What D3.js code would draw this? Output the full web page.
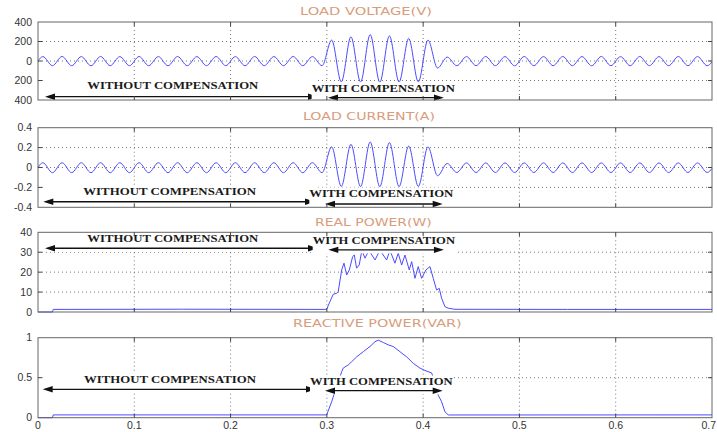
<!DOCTYPE html>
<html><head><meta charset="utf-8">
<script src="https://cdn.jsdelivr.net/npm/d3@7"></script>
<style>body{margin:0;background:#fff}svg{display:block}</style>
</head><body>
<script>
// ---------------- DATA ----------------
const xTicks = [0, 0.1, 0.2, 0.3, 0.4, 0.5, 0.6, 0.7];
const xTickLabels = ["0", "0.1", "0.2", "0.3", "0.4", "0.5", "0.6", "0.7"];
const titles = ["LOAD VOLTAGE(V)", "LOAD CURRENT(A)", "REAL POWER(W)", "REACTIVE POWER(VAR)"];

const voltageTicks = [400, 200, 0, -200, -400];
const voltageTickLabels = ["400", "200", "0", "200", "400"];
const currentTicks = [0.4, 0.2, 0, -0.2, -0.4];
const currentTickLabels = ["0.4", "0.2", "0", "-0.2", "-0.4"];
const realTicks = [40, 30, 20, 10, 0];
const realTickLabels = ["40", "30", "20", "10", "0"];
const reactiveTicks = [1, 0.5, 0];
const reactiveTickLabels = ["1", "0.5", "0"];

// half-cycle times of the 50 Hz waveform (peak / trough instants)
const halfCycleTimes = d3.range(70).map(k => +(0.005 + 0.01 * k).toFixed(3));

// voltage peaks/troughs, one per half cycle
const voltageExtrema = [
  45,-48,46,-48,45,-49,46,-48,45,-48,46,-48,45,-49,46,-48,45,-48,46,-48,45,-49,46,-48,45,-48,46,-48,45,-48,
  214,-214,248,-216,271,-218,258,-216,231,-214,214,-72,
  40,-48,45,-48,46,-48,45,-49,46,-48,45,-48,46,-48,45,-49,46,-48,45,-48,46,-48,45,-48,46,-48,45,-48
];
const voltageStart = 0, voltageEnd = -10;

// current peaks/troughs, one per half cycle
const currentExtrema = [
  0.048,-0.052,0.048,-0.052,0.048,-0.052,0.048,-0.052,0.048,-0.052,0.048,-0.052,0.048,-0.052,0.048,-0.052,
  0.048,-0.052,0.048,-0.052,0.048,-0.052,0.048,-0.052,0.048,-0.052,0.048,-0.052,0.048,-0.052,
  0.207,-0.19,0.233,-0.192,0.257,-0.193,0.25,-0.192,0.215,-0.19,0.207,-0.083,
  0.04,-0.05,0.046,-0.05,0.046,-0.05,0.046,-0.05,0.046,-0.05,0.046,-0.05,0.046,-0.05,
  0.046,-0.05,0.046,-0.05,0.046,-0.05,0.046,-0.05,0.046,-0.05,0.046,-0.05,0.046,-0.05
];
const currentStart = 0, currentEnd = -0.01;

const realPowerT = [0,0.015,0.0158,0.15,0.299,0.2998,0.3032,0.3066,0.3102,0.3118,0.3154,0.3178,0.3206,0.3233,
  0.3268,0.3285,0.3309,0.3336,0.3364,0.3396,0.3437,0.35,0.3551,0.3621,0.3655,0.3707,0.3741,0.3777,0.3811,
  0.3856,0.3881,0.3915,0.3949,0.3984,0.4029,0.4071,0.4105,0.414,0.4167,0.4192,0.4226,0.4261,0.433,0.55,0.7];
const realPowerV = [0,0,1.3,1.4,1.3,1.36,5.2,8.9,9.4,10.2,21.1,24.5,18.6,21.1,
  27.8,28.6,22.0,23.6,31,27,31,26.1,31,26.1,31,24.5,29.5,23.6,28.6,
  21.1,25.3,16.9,22.8,16.9,21.1,22.8,16.9,11.0,11.9,6.9,2.7,1.9,1.36,1.3,1.3];

const reactiveT = [0,0.015,0.0158,0.299,0.2998,0.305,0.3084,0.312,0.3154,0.317,0.3222,0.3258,0.3309,0.3378,
  0.3448,0.35,0.3534,0.3586,0.3638,0.369,0.3759,0.3829,0.3897,0.3967,0.4019,0.4088,0.412,0.4157,0.4192,
  0.4226,0.4261,0.7];
const reactiveV = [0,0,0.035,0.035,0.034,0.2,0.325,0.45,0.575,0.62,0.66,0.70,0.76,0.825,
  0.89,0.95,0.97,0.94,0.91,0.89,0.825,0.76,0.68,0.62,0.59,0.56,0.45,0.28,0.2,
  0.075,0.034,0.035];

const annotationTexts = ["WITHOUT COMPENSATION", "WITH COMPENSATION"];

// ---------------- LAYOUT ----------------
const W = 717, H = 432;
const left = 38, right = 712;
const panels = [
  {top: 22, bottom: 100, domain: [-400, 400], ticks: voltageTicks, labels: voltageTickLabels,
   title: titles[0], titleX: [300, 432], titleY: 15,
   ann: [{tx: [0.0512, 0.2288], ty: -290, ax: [0.0073, 0.2908], ay: -366},
         {tx: [0.2842, 0.433], ty: -315, ax: [0.3012, 0.4216], ay: -376}]},
  {top: 127.7, bottom: 207.3, domain: [-0.4, 0.4], ticks: currentTicks, labels: currentTickLabels,
   title: titles[1], titleX: [303, 435], titleY: 120.3,
   ann: [{tx: [0.047, 0.2264], ty: -0.276, ax: [0.0055, 0.2877], ay: -0.344},
         {tx: [0.2818, 0.4313], ty: -0.296, ax: [0.2981, 0.4203], ay: -0.367}]},
  {top: 232.3, bottom: 312, domain: [0, 40], ticks: realTicks, labels: realTickLabels,
   title: titles[2], titleX: [315, 431.7], titleY: 225.7,
   ann: [{tx: [0.0512, 0.2288], ty: 35.3, ax: [0.0073, 0.2908], ay: 32.0},
         {tx: [0.2853, 0.4331], ty: 34.2, ax: [0.3015, 0.4216], ay: 31.2}]},
  {top: 337.7, bottom: 417.7, domain: [0, 1], ticks: reactiveTicks, labels: reactiveTickLabels,
   title: titles[3], titleX: [293, 461.7], titleY: 326.7,
   ann: [{tx: [0.0478, 0.2264], ty: 0.4375, ax: [0.0049, 0.2887], ay: 0.355},
         {tx: [0.2825, 0.4307], ty: 0.409, ax: [0.2981, 0.4203], ay: 0.3375}]}
];

const series = [
  [[0, voltageStart]].concat(halfCycleTimes.map((t, i) => [t, voltageExtrema[i]]), [[0.7, voltageEnd]]),
  [[0, currentStart]].concat(halfCycleTimes.map((t, i) => [t, currentExtrema[i]]), [[0.7, currentEnd]]),
  realPowerT.map((t, i) => [t, realPowerV[i]]),
  reactiveT.map((t, i) => [t, reactiveV[i]])
];
const curves = [d3.curveMonotoneX, d3.curveMonotoneX, d3.curveLinear, d3.curveLinear];

const svg = d3.select("body").append("svg").attr("width", W).attr("height", H);
svg.append("rect").attr("width", W).attr("height", H).attr("fill", "#fff");

const x = d3.scaleLinear().domain([0, 0.7]).range([left, right]);

panels.forEach((p, pi) => {
  const y = d3.scaleLinear().domain(p.domain).range([p.bottom, p.top]);
  const g = svg.append("g");

  // grid
  const innerX = xTicks.slice(1, -1);
  const innerY = p.ticks.filter(v => v !== p.domain[0] && v !== p.domain[1]);
  g.selectAll(".gx").data(innerX).join("line")
    .attr("x1", d => x(d)).attr("x2", d => x(d)).attr("y1", p.top).attr("y2", p.bottom)
    .attr("stroke", "#555").attr("stroke-width", 0.8).attr("stroke-dasharray", "1,3");
  g.selectAll(".gy").data(innerY).join("line")
    .attr("x1", left).attr("x2", right).attr("y1", d => y(d)).attr("y2", d => y(d))
    .attr("stroke", "#555").attr("stroke-width", 0.8).attr("stroke-dasharray", "1,3");

  // data line
  const line = d3.line().x(d => x(d[0])).y(d => y(d[1])).curve(curves[pi]);
  g.append("path").datum(series[pi]).attr("d", line)
    .attr("fill", "none").attr("stroke", "#4b4bff").attr("stroke-width", 1);

  // annotations (white backed)
  p.ann.forEach((a, ai) => {
    const tx0 = x(a.tx[0]), tx1 = x(a.tx[1]), tyb = y(a.ty);
    const ax0 = x(a.ax[0]), ax1 = x(a.ax[1]), ay = y(a.ay);
    const bx0 = Math.min(tx0, ax0), bx1 = Math.max(tx1, ax1);
    g.append("rect").attr("x", bx0).attr("y", tyb - 9.5).attr("width", bx1 - bx0)
      .attr("height", ay + 3.5 - (tyb - 9.5)).attr("fill", "#fff");
    g.append("text").attr("x", tx0).attr("y", tyb)
      .attr("font-family", "Liberation Serif, Times New Roman, serif").attr("font-weight", "bold")
      .attr("font-size", 10).attr("fill", "#1a1a1a")
      .attr("textLength", tx1 - tx0).attr("lengthAdjust", "spacingAndGlyphs")
      .text(annotationTexts[ai]);
    const head = 10, hw = 3.2;
    g.append("line").attr("x1", ax0 + head - 1).attr("x2", ax1 - head + 1).attr("y1", ay).attr("y2", ay)
      .attr("stroke", "#111").attr("stroke-width", 1.3);
    g.append("path").attr("d", `M${ax0},${ay}L${ax0 + head},${ay - hw}L${ax0 + head},${ay + hw}Z`).attr("fill", "#111");
    g.append("path").attr("d", `M${ax1},${ay}L${ax1 - head},${ay - hw}L${ax1 - head},${ay + hw}Z`).attr("fill", "#111");
  });

  // frame & ticks
  g.append("rect").attr("x", left).attr("y", p.top).attr("width", right - left).attr("height", p.bottom - p.top)
    .attr("fill", "none").attr("stroke", "#666").attr("stroke-width", 1);
  const tl = 4;
  innerX.forEach(v => {
    g.append("line").attr("x1", x(v)).attr("x2", x(v)).attr("y1", p.bottom).attr("y2", p.bottom - tl).attr("stroke", "#444");
    g.append("line").attr("x1", x(v)).attr("x2", x(v)).attr("y1", p.top).attr("y2", p.top + tl).attr("stroke", "#444");
  });
  innerY.forEach(v => {
    g.append("line").attr("x1", left).attr("x2", left + tl).attr("y1", y(v)).attr("y2", y(v)).attr("stroke", "#444");
    g.append("line").attr("x1", right).attr("x2", right - tl).attr("y1", y(v)).attr("y2", y(v)).attr("stroke", "#444");
  });

  // y tick labels
  g.selectAll(".yl").data(p.ticks).join("text")
    .attr("x", 32).attr("y", d => y(d)).attr("dy", "0.35em").attr("text-anchor", "end")
    .attr("font-family", "Liberation Sans, Arial, sans-serif").attr("font-size", 10.5).attr("fill", "#333")
    .text((d, i) => p.labels[i]);

  // title
  g.append("text").attr("x", p.titleX[0]).attr("y", p.titleY)
    .attr("font-family", "DejaVu Sans, sans-serif").attr("font-size", 11).attr("fill", "#d99c7c")
    .attr("textLength", p.titleX[1] - p.titleX[0]).attr("lengthAdjust", "spacingAndGlyphs")
    .text(p.title);

  // x tick labels on last panel (last one kept inside the page edge)
  if (pi === panels.length - 1) {
    g.selectAll(".xl").data(xTicks).join("text")
      .attr("x", (d, i) => i === xTicks.length - 1 ? W - 1 : x(d)).attr("y", 429)
      .attr("text-anchor", (d, i) => i === xTicks.length - 1 ? "end" : "middle")
      .attr("font-family", "Liberation Sans, Arial, sans-serif").attr("font-size", 10.5).attr("fill", "#333")
      .text((d, i) => xTickLabels[i]);
  }
});
</script>
</body></html>
